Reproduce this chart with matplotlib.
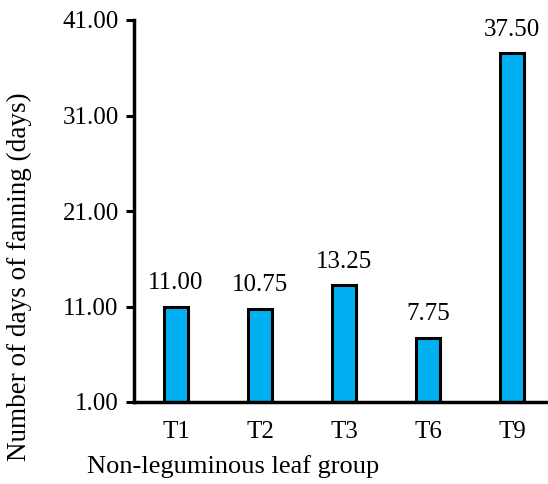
import matplotlib.pyplot as plt

plt.rcParams['font.family'] = ['Liberation Serif', 'DejaVu Serif']

groups = ['T1', 'T2', 'T3', 'T6', 'T9']
days = [11.00, 10.75, 13.25, 7.75, 37.50]
yticks = [1, 11, 21, 31, 41]

fig = plt.figure(figsize=(5.48, 4.84), dpi=100)
ax = fig.add_axes([134 / 548, 1 - 402 / 484, 420 / 548, 382 / 484])

x = range(len(groups))
ax.bar(x, days, width=0.28, bottom=0, color='#00B0F0', edgecolor='black', linewidth=2.2)
for i, v in zip(x, days):
    ax.text(i, v + 1.3, f'{v:.2f}', ha='center', va='bottom', fontsize=18)

ax.set_xlim(-0.5, 4.5)
ax.set_ylim(1, 41)
ax.set_yticks(yticks)
ax.set_yticklabels([f'{t:.2f}' for t in yticks], fontsize=18)
ax.set_xticks(list(x))
ax.set_xticklabels(groups, fontsize=18)
ax.tick_params(axis='x', length=0, pad=14)
ax.tick_params(axis='y', length=6, width=2.2, pad=5)

for s in ['top', 'right']:
    ax.spines[s].set_visible(False)
for s in ['left', 'bottom']:
    ax.spines[s].set_linewidth(2.5)

fig.text(233 / 548, 1 - 467 / 484, 'Non-leguminous leaf group', ha='center', va='center', fontsize=19)
fig.text(19 / 548, 1 - 277 / 484, 'Number of days of fanning (days)', ha='center', va='center',
         rotation=90, fontsize=19.5)

fig.savefig('out.png', dpi=100)
